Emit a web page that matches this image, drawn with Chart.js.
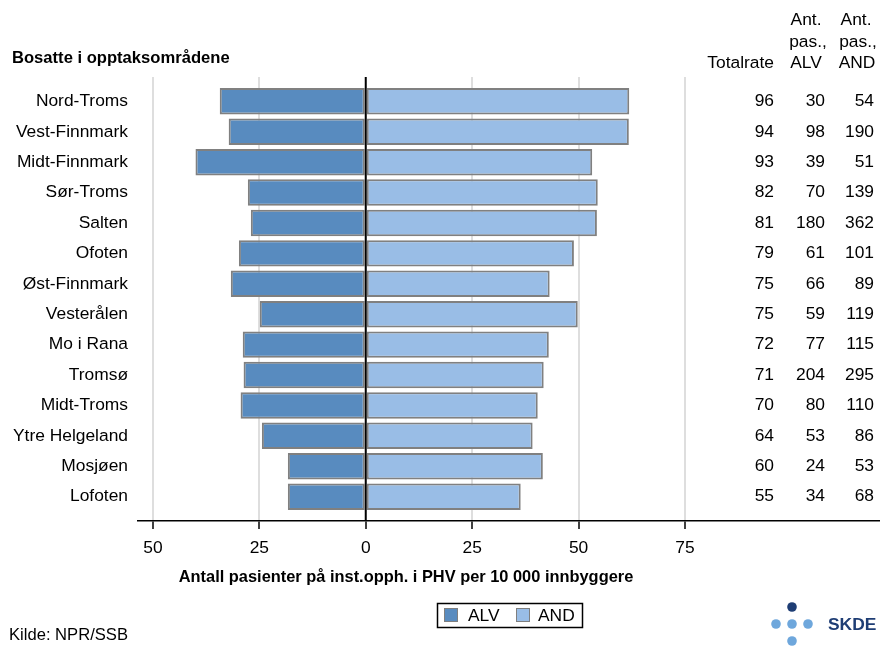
<!DOCTYPE html>
<html>
<head>
<meta charset="utf-8">
<script src="https://cdn.jsdelivr.net/npm/chart.js@4/dist/chart.umd.min.js"></script>
<style>
  html, body { margin: 0; padding: 0; background: #fff; }
  #wrap { position: relative; width: 880px; height: 646px; }
</style>
</head>
<body>
<div id="wrap"><canvas id="c" width="880" height="646"></canvas></div>
<script>
// ---- Data ----
const categories = ["Nord-Troms", "Vest-Finnmark", "Midt-Finnmark", "Sør-Troms", "Salten", "Ofoten",
  "Øst-Finnmark", "Vesterålen", "Mo i Rana", "Tromsø", "Midt-Troms", "Ytre Helgeland", "Mosjøen", "Lofoten"];
const alvRate = [34.3, 32.2, 40.0, 27.7, 27.0, 29.8, 31.7, 24.9, 28.9, 28.7, 29.4, 24.4, 18.3, 18.3];
const andRate = [61.9, 61.8, 53.2, 54.5, 54.3, 48.9, 43.2, 49.8, 43.0, 41.8, 40.4, 39.2, 41.6, 36.4];
const totalRate = [96, 94, 93, 82, 81, 79, 75, 75, 72, 71, 70, 64, 60, 55];
const antPasALV = [30, 98, 39, 70, 180, 61, 66, 59, 77, 204, 80, 53, 24, 34];
const antPasAND = [54, 190, 51, 139, 362, 101, 89, 119, 115, 295, 110, 86, 53, 68];
const xTicks = [-50, -25, 0, 25, 50, 75];
const seriesNames = ["ALV", "AND"];

const FONT = "'Liberation Sans', Arial, sans-serif";
const colALV = "#588bbf";
const colAND = "#99bde6";

const overlay = {
  id: "overlay",
  afterDatasetsDraw(chart) {
    const ctx = chart.ctx, x = chart.scales.x, a = chart.chartArea;
    const x0 = x.getPixelForValue(0);
    ctx.save();
    ctx.strokeStyle = "#000";
    ctx.lineWidth = 2;
    ctx.beginPath();
    ctx.moveTo(x0, a.top);
    ctx.lineTo(x0, a.bottom);
    ctx.stroke();
    ctx.restore();
  },
  afterDraw(chart) {
    const ctx = chart.ctx, y = chart.scales.y;
    ctx.save();
    ctx.fillStyle = "#000";
    ctx.textBaseline = "middle";
    // title
    ctx.font = "bold 16.6px " + FONT;
    ctx.textAlign = "left";
    ctx.fillText("Bosatte i opptaksområdene", 12, 58);
    // headers
    ctx.font = "17.4px " + FONT;
    ctx.textAlign = "right";
    ctx.fillText("Totalrate", 774, 63);
    ctx.textAlign = "center";
    ctx.fillText("Ant.", 806, 20);
    ctx.fillText("pas.,", 808, 42);
    ctx.fillText("ALV", 806, 63);
    ctx.fillText("Ant.", 856, 20);
    ctx.fillText("pas.,", 858, 42);
    ctx.fillText("AND", 857, 63);
    // table
    ctx.textAlign = "right";
    categories.forEach((c, i) => {
      const py = y.getPixelForValue(i);
      ctx.fillText(String(totalRate[i]), 774, py);
      ctx.fillText(String(antPasALV[i]), 825, py);
      ctx.fillText(String(antPasAND[i]), 874, py);
    });
    // axis title
    ctx.font = "bold 16.4px " + FONT;
    ctx.textAlign = "center";
    ctx.fillText("Antall pasienter på inst.opph. i PHV per 10 000 innbyggere", 406, 577);
    // legend
    ctx.strokeStyle = "#000";
    ctx.lineWidth = 1.5;
    ctx.strokeRect(437.5, 603.5, 145, 24);
    ctx.lineWidth = 1;
    ctx.strokeStyle = "#7f7f7f";
    ctx.fillStyle = colALV;
    ctx.fillRect(444, 608, 14, 14);
    ctx.strokeRect(444.5, 608.5, 13, 13);
    ctx.fillStyle = colAND;
    ctx.fillRect(516, 608, 14, 14);
    ctx.strokeRect(516.5, 608.5, 13, 13);
    ctx.fillStyle = "#000";
    ctx.font = "17.4px " + FONT;
    ctx.textAlign = "left";
    ctx.fillText(seriesNames[0], 468, 616);
    ctx.fillText(seriesNames[1], 538, 616);
    // source
    ctx.font = "16.6px " + FONT;
    ctx.fillText("Kilde: NPR/SSB", 9, 635);
    // logo
    ctx.fillStyle = "#1e3d74";
    ctx.beginPath(); ctx.arc(792, 607, 4.8, 0, Math.PI * 2); ctx.fill();
    ctx.fillStyle = "#6ea7dc";
    [[776, 624], [792, 624], [808, 624], [792, 641]].forEach(p => {
      ctx.beginPath(); ctx.arc(p[0], p[1], 4.8, 0, Math.PI * 2); ctx.fill();
    });
    ctx.fillStyle = "#1e3d74";
    ctx.font = "bold 17.4px " + FONT;
    ctx.fillText("SKDE", 828, 625);
    ctx.restore();
  }
};

const toPts = (arr, sign) => arr.map((v, i) => ({ x: sign * v, y: i }));

new Chart(document.getElementById("c"), {
  type: "bar",
  data: {
    datasets: [
      { label: seriesNames[0], data: toPts(alvRate, -1), backgroundColor: colALV },
      { label: seriesNames[1], data: toPts(andRate, 1), backgroundColor: colAND }
    ]
  },
  options: {
    indexAxis: "y",
    responsive: false,
    animation: false,
    devicePixelRatio: 1,
    layout: { padding: { top: 77, right: 0, left: 0, bottom: 0 } },
    datasets: {
      bar: {
        borderColor: "#808080",
        borderWidth: 2,
        borderSkipped: false,
        barPercentage: 0.87,
        categoryPercentage: 1
      }
    },
    plugins: { legend: { display: false }, tooltip: { enabled: false }, title: { display: false } },
    scales: {
      x: {
        type: "linear",
        stacked: true,
        min: -53.5,
        max: 120.8,
        afterBuildTicks: s => { s.ticks = xTicks.map(v => ({ value: v })); },
        afterFit: s => { s.height = 125; },
        ticks: {
          callback: v => String(Math.abs(v)),
          color: "#000",
          font: { family: FONT, size: 17.4 },
          padding: 9,
          maxRotation: 0,
          autoSkip: false
        },
        grid: {
          color: c => (c.tick && c.tick.value === 0) ? "rgba(0,0,0,0)" : "#dedede",
          lineWidth: 2,
          tickColor: "#000",
          tickLength: 8,
          tickWidth: 1.5
        },
        border: { display: true, color: "#000", width: 1.5 }
      },
      y: {
        type: "linear",
        stacked: true,
        reverse: true,
        offset: false,
        min: -0.8,
        max: 13.8,
        afterBuildTicks: s => { s.ticks = categories.map((c, i) => ({ value: i })); },
        afterFit: s => { s.width = 138; },
        ticks: {
          callback: v => categories[v],
          color: "#000",
          font: { family: FONT, size: 17.4 },
          padding: 10,
          autoSkip: false
        },
        grid: { display: false, drawTicks: false, offset: false },
        border: { display: false }
      }
    }
  },
  plugins: [overlay]
});
</script>
</body>
</html>
